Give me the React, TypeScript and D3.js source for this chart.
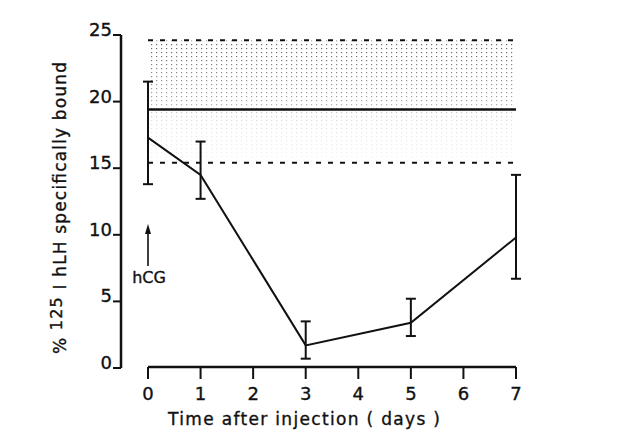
import * as d3 from "d3";

const days = [0, 1, 3, 5, 7];
const bound = [17.3, 14.5, 1.7, 3.4, 9.8];
const errHigh = [21.5, 17.0, 3.5, 5.2, 14.5];
const errLow = [13.8, 12.7, 0.7, 2.4, 6.7];

const controlMean = 19.4;
const controlHigh = 24.6;
const controlLow = 15.4;

const yTicks = [0, 5, 10, 15, 20, 25];
const xTicks = [0, 1, 2, 3, 4, 5, 6, 7];

const font = "'DejaVu Sans', 'Liberation Sans', sans-serif";

export default function App() {
  const x = d3.scaleLinear().domain([0, 7]).range([148, 516]);
  const y = d3.scaleLinear().domain([0, 25]).range([368, 35]);

  const line = d3
    .line<number>()
    .x((_, i) => x(days[i]))
    .y((d) => y(d));

  const axisX = 121;
  const xAxisY = 367;
  const cap = 5;
  const ink = "#111";
  const txt = { fill: ink, stroke: ink, strokeWidth: 0.35 };

  return (
    <svg
      width={618}
      height={435}
      style={{ position: "absolute", left: 0, top: 0, background: "#fff" }}
      fontFamily={font}
    >
      <defs>
        <pattern id="stip" width={5} height={4} patternUnits="userSpaceOnUse">
          <rect x={1} y={0} width={1.2} height={1.2} fill="#222" />
        </pattern>
        <linearGradient id="fade" x1="0" y1="0" x2="0" y2="1">
          <stop offset="0" stopColor="#fff" stopOpacity={0.7} />
          <stop offset="0.5" stopColor="#fff" stopOpacity={0.4} />
          <stop offset="0.65" stopColor="#fff" stopOpacity={0.15} />
          <stop offset="1" stopColor="#fff" stopOpacity={0.04} />
        </linearGradient>
        <mask id="m">
          <rect
            x={x(0)}
            y={y(controlHigh)}
            width={x(7) - x(0)}
            height={y(controlLow) - y(controlHigh)}
            fill="url(#fade)"
          />
        </mask>
      </defs>

      {/* control range */}
      <rect
        x={x(0)}
        y={y(controlHigh)}
        width={x(7) - x(0)}
        height={y(controlLow) - y(controlHigh)}
        fill="url(#stip)"
        mask="url(#m)"
      />
      <line
        x1={x(0)}
        x2={x(7)}
        y1={y(controlHigh)}
        y2={y(controlHigh)}
        stroke={ink}
        strokeWidth={2}
        strokeDasharray="5 7"
      />
      <line
        x1={x(0)}
        x2={x(7)}
        y1={y(controlLow)}
        y2={y(controlLow)}
        stroke={ink}
        strokeWidth={2}
        strokeDasharray="5 7"
      />
      <line
        x1={x(0)}
        x2={x(7)}
        y1={y(controlMean)}
        y2={y(controlMean)}
        stroke={ink}
        strokeWidth={2.5}
      />

      {/* y axis */}
      <line x1={axisX} x2={axisX} y1={y(25)} y2={y(0)} stroke={ink} strokeWidth={2.5} />
      {yTicks.map((t) => (
        <g key={t}>
          <line x1={axisX - 8} x2={axisX} y1={y(t)} y2={y(t)} stroke={ink} strokeWidth={2} />
          <text x={axisX - 9} y={y(t) + 1} textAnchor="end" fontSize={18} {...txt}>
            {t}
          </text>
        </g>
      ))}

      {/* x axis */}
      <line x1={x(0)} x2={x(7)} y1={xAxisY} y2={xAxisY} stroke={ink} strokeWidth={2.5} />
      {xTicks.map((t) => (
        <g key={t}>
          <line x1={x(t)} x2={x(t)} y1={xAxisY} y2={xAxisY + 12} stroke={ink} strokeWidth={2} />
          <text x={x(t)} y={400} textAnchor="middle" fontSize={18} {...txt}>
            {t}
          </text>
        </g>
      ))}
      <text x={304} y={425} textAnchor="middle" fontSize={17} textLength={272} {...txt}>
        Time after injection ( days )
      </text>

      {/* y label */}
      <text
        transform={`translate(66,${208}) rotate(-90)`}
        textAnchor="middle"
        fontSize={17}
        textLength={292}
        {...txt}
      >
        %{"  "}
        <tspan fontSize={16} dy={-4}>125</tspan>
        <tspan dy={4}> I hLH specifically bound</tspan>
      </text>

      {/* hCG arrow */}
      <line x1={x(0)} x2={x(0)} y1={266} y2={228} stroke={ink} strokeWidth={1.6} />
      <path
        d={`M${x(0)},${224} L${x(0) - 3},${234} L${x(0) + 3},${234} Z`}
        fill={ink}
      />
      <text x={x(0) + 1} y={283} textAnchor="middle" fontSize={16} {...txt}>
        hCG
      </text>

      {/* data */}
      <path d={line(bound) ?? ""} fill="none" stroke={ink} strokeWidth={2} />
      {days.map((d, i) => (
        <g key={d} stroke={ink} strokeWidth={2}>
          <line x1={x(d)} x2={x(d)} y1={y(errHigh[i])} y2={y(errLow[i])} />
          <line x1={x(d) - cap} x2={x(d) + cap} y1={y(errHigh[i])} y2={y(errHigh[i])} />
          <line x1={x(d) - cap} x2={x(d) + cap} y1={y(errLow[i])} y2={y(errLow[i])} />
        </g>
      ))}
    </svg>
  );
}
